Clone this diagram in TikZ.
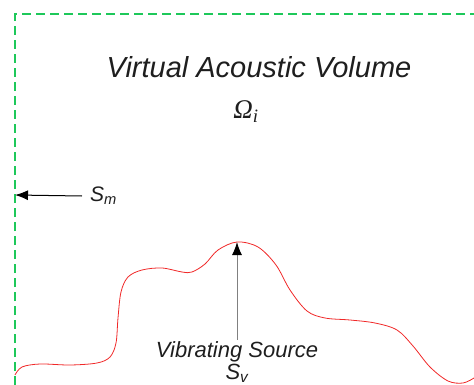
\documentclass[tikz,border=0pt]{standalone}
\usepackage{fontspec}
\setmainfont{Liberation Sans}
\newfontfamily\serifit{Liberation Serif}
\usepackage{tikz}
\usetikzlibrary{arrows.meta}
\usetikzlibrary{positioning}

\definecolor{boundgreen}{RGB}{30,200,90}
\definecolor{sourcered}{RGB}{240,40,40}
\definecolor{inkgray}{RGB}{30,30,30}

\begin{document}
\begin{tikzpicture}
			[x=1pt,y=-1pt,every node/.style={font=\itshape,inner sep=2pt,text=inkgray},
			bound/.style={draw=boundgreen,line width=1.2pt,dash pattern=on 9pt off 5pt},
			pointer/.style={-{Latex[length=13pt,width=10pt,color=black]},line width=1pt}]
			\clip (0,0) rectangle (474,385);
			
			% measurement surface
			\draw[bound] (15,385) -- (15,14) -- (480,14);
			\coordinate (sm) at (15,195);
			\coordinate (peak) at (237,242);
			
			% vibrating surface
			\draw[sourcered,line width=0.8pt] plot[smooth,tension=0.55] coordinates
			{(15,375) (22,367) (40,364) (70,365) (97,363) (110,357) (116,343)
				(118,318) (121,292) (128,277) (142,270) (162,268) (182,272) (192,272)
				(205,264) (218,250) (237,242) (258,247) (276,265) (290,290) (307,311)
				(325,318) (350,320) (375,323) (397,330) (413,346) (430,367) (448,381)
				(463,383) (474,378)};
			
			\node (title) at (259,67) {\fontsize{29}{33}\selectfont Virtual Acoustic Volume};
			\node (vol) at (246,112) {\fontsize{27}{30}\selectfont\serifit\itshape Ω\textsubscript{i}};
			\node[anchor=west] (smlabel) at (88,196) {\fontsize{21}{24}\selectfont S\textsubscript{m}};
			\node (src) at (237,352) {\fontsize{22}{25}\selectfont Vibrating Source};
			\node[below=-3pt of src] (sv) {\fontsize{22}{25}\selectfont S\textsubscript{v}};
			
			\draw[pointer] (smlabel.west) ++(-6,0) -- (sm);
			\draw[pointer,draw=gray] (src.north) -- (peak);
\end{tikzpicture}
\end{document}
